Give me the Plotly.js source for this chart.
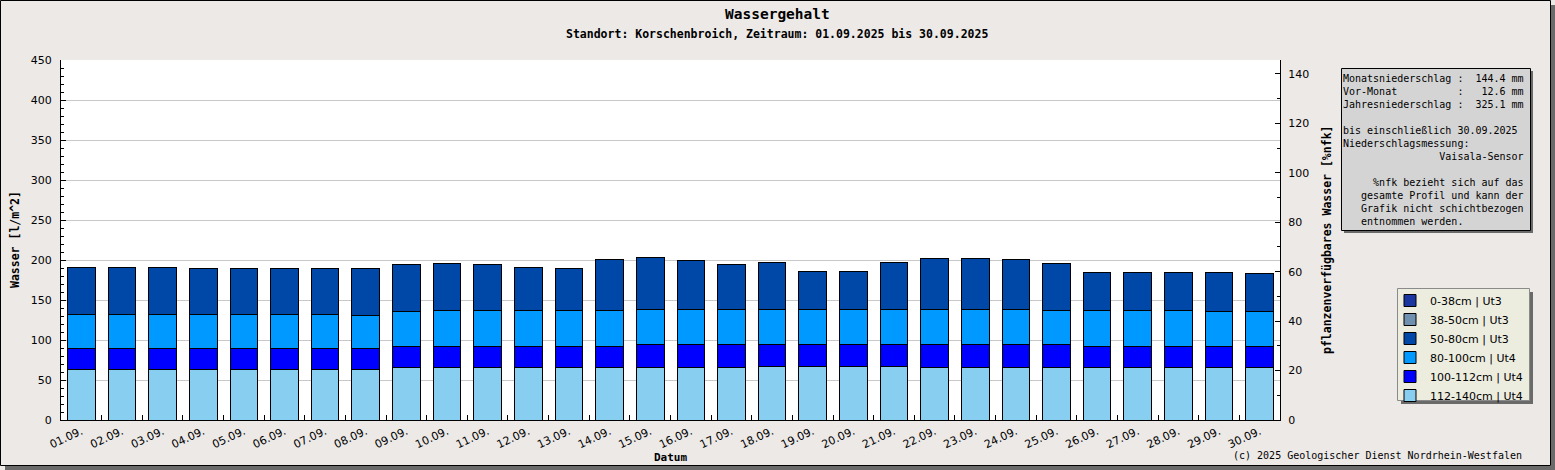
<!DOCTYPE html>
<html>
<head>
<meta charset="utf-8">
<script src="https://cdn.plot.ly/plotly-3.0.1.min.js"></script>
<style>
  html, body { margin: 0; padding: 0; background: #ece9e7; }
  #chart { width: 1555px; height: 470px; }
</style>
</head>
<body>
<div id="chart"></div>
<script>
// Datum (September 2025)
const dates = ["01.09.", "02.09.", "03.09.", "04.09.", "05.09.", "06.09.", "07.09.", "08.09.", "09.09.", "10.09.",
               "11.09.", "12.09.", "13.09.", "14.09.", "15.09.", "16.09.", "17.09.", "18.09.", "19.09.", "20.09.",
               "21.09.", "22.09.", "23.09.", "24.09.", "25.09.", "26.09.", "27.09.", "28.09.", "29.09.", "30.09."];

// Wasser [l/m^2] je Schicht
const layer112_140 = [62.9, 62.9, 62.9, 62.9, 62.9, 62.9, 62.9, 62.9, 65.8, 66.0,
                      66.0, 66.0, 66.0, 66.0, 66.0, 66.0, 66.0, 67.1, 67.1, 67.1,
                      67.1, 66.0, 66.0, 66.0, 66.0, 66.0, 66.0, 66.0, 66.0, 66.0];
const layer100_112 = [25.9, 25.9, 25.9, 25.9, 25.9, 25.9, 25.9, 25.9, 26.3, 26.0,
                      26.0, 26.0, 26.0, 26.0, 27.8, 27.8, 27.8, 26.7, 26.7, 26.7,
                      26.7, 27.8, 27.8, 27.8, 27.8, 26.0, 26.0, 26.0, 26.0, 26.0];
const layer80_100  = [43.2, 43.2, 43.2, 43.2, 43.2, 43.2, 43.2, 42.0, 43.7, 45.1,
                      45.1, 45.1, 45.1, 45.1, 44.5, 44.5, 44.5, 44.5, 44.5, 44.5,
                      44.1, 44.1, 44.1, 44.1, 42.9, 44.7, 44.7, 44.7, 43.4, 43.4];
const layer50_80   = [58.8, 58.8, 58.8, 57.6, 57.6, 57.6, 57.6, 58.8, 58.8, 58.7,
                      57.5, 53.7, 52.5, 63.7, 65.0, 61.3, 56.3, 58.8, 47.5, 47.5,
                      59.2, 64.2, 64.2, 62.9, 59.1, 47.9, 47.9, 47.9, 49.2, 47.9];
// keine Werte sichtbar
const layer38_50   = dates.map(() => null);
const layer0_38    = dates.map(() => null);

const layers = [
    { name: "112-140cm | Ut4", y: layer112_140, color: "#88cef0" },
    { name: "100-112cm | Ut4", y: layer100_112, color: "#0000ff" },
    { name: "80-100cm | Ut4",  y: layer80_100,  color: "#0099ff" },
    { name: "50-80cm | Ut3",   y: layer50_80,   color: "#0048a8" },
    { name: "38-50cm | Ut3",   y: layer38_50,   color: "#7090b0" },
    { name: "0-38cm | Ut3",    y: layer0_38,    color: "#1a36a0" }
];

const infoLines = [
    "Monatsniederschlag :  144.4 mm",
    "Vor-Monat          :   12.6 mm",
    "Jahresniederschlag :  325.1 mm",
    "",
    "bis einschließlich 30.09.2025",
    "Niederschlagsmessung:",
    "                Vaisala-Sensor",
    "",
    "     %nfk bezieht sich auf das",
    "   gesamte Profil und kann der",
    "   Grafik nicht schichtbezogen",
    "   entnommen werden."
];

// page geometry in pixels
const W = 1555, H = 470;
const ML = 61, MR = 275, MT = 60, MB = 50;
const plotW = W - ML - MR;
const plotH = H - MT - MB;
const fx = (px) => (px - ML) / plotW;
const fy = (py) => (H - MB - py) / plotH;

const MONO = "DejaVu Sans Mono, monospace";
const SANS = "DejaVu Sans, sans-serif";

const traces = layers.map(l => ({
    type: "bar",
    x: dates,
    y: l.y,
    name: l.name,
    marker: { color: l.color, line: { color: "#000000", width: 1 } },
    hoverinfo: "skip"
}));

// empty trace so the %nfk axis on the right is drawn
traces.push({
    type: "scatter",
    mode: "lines",
    x: dates,
    y: dates.map(() => null),
    yaxis: "y2",
    showlegend: false,
    hoverinfo: "skip"
});

function rect(x0, y0, x1, y1, fill, line, layer) {
    return {
        type: "rect", xref: "paper", yref: "paper",
        x0: fx(x0), x1: fx(x1), y0: fy(y1), y1: fy(y0),
        fillcolor: fill,
        line: line ? { color: line, width: 1 } : { width: 0 },
        layer: layer || "above"
    };
}

function label(text, x, y, opts) {
    return Object.assign({
        text: text, xref: "paper", yref: "paper",
        x: fx(x), y: fy(y), showarrow: false,
        xanchor: "center", yanchor: "middle",
        font: { family: MONO, size: 11, color: "#000", weight: "bold" }
    }, opts || {});
}

const shapes = [
    // outer frame and shadow
    rect(1551, 5, 1555, 470, "#6a6a6a", null, "below"),
    rect(5, 466, 1555, 470, "#6a6a6a", null, "below"),
    rect(0.5, 0.5, 1550.5, 465.5, "rgba(0,0,0,0)", "#000000", "below"),
    // info box
    rect(1344, 71, 1533, 233, "#6a6a6a", null),
    rect(1341.5, 68.5, 1530.5, 230.5, "#d4d4d4", "#000000"),
    // legend box
    rect(1401, 292, 1533, 404, "#6a6a6a", null),
    rect(1397.5, 288.5, 1529.5, 400.5, "#ececdf", "#8a8a8a")
];

const annotations = [
    label("Wassergehalt", 777, 14, { font: { family: MONO, size: 14.5, color: "#000", weight: "bold" } }),
    label("Standort: Korschenbroich, Zeitraum: 01.09.2025 bis 30.09.2025", 777, 34,
          { font: { family: MONO, size: 11.5, color: "#000", weight: "bold" } }),
    label("Wasser [l/m^2]", 15, 240, { textangle: -90, font: { family: MONO, size: 11.5, color: "#000", weight: "bold" } }),
    label("pflanzenverfügbares Wasser [%nfk]", 1327, 240, { textangle: -90, font: { family: MONO, size: 11.5, color: "#000", weight: "bold" } }),
    label("Datum", 670, 457),
    label("(c) 2025 Geologischer Dienst Nordrhein-Westfalen", 1524, 455,
          { xanchor: "right", font: { family: MONO, size: 10, color: "#000" } }),
    label(infoLines.map(s => s.replace(/ /g, "\u00a0")).join("<br>"), 1341, 71,
          { xanchor: "left", yanchor: "top", align: "left", font: { family: MONO, size: 10, color: "#000" } })
];

const layout = {
    width: W,
    height: H,
    margin: { l: ML, r: MR, t: MT, b: MB, pad: 0 },
    paper_bgcolor: "#ece9e7",
    plot_bgcolor: "#ffffff",
    barmode: "stack",
    bargap: 0.32,
    showlegend: true,
    legend: {
        x: fx(1390), y: fy(286), xanchor: "left", yanchor: "top",
        bgcolor: "rgba(0,0,0,0)", borderwidth: 0,
        traceorder: "reversed",
        font: { family: SANS, size: 11, color: "#000" }
    },
    xaxis: {
        type: "category",
        showline: true, linecolor: "#000", linewidth: 1,
        showgrid: false,
        ticks: "inside", tickson: "boundaries", ticklen: 5, tickcolor: "#000",
        tickangle: -25,
        tickfont: { family: SANS, size: 11, color: "#000" },
        fixedrange: true
    },
    yaxis: {
        range: [0, 450], tick0: 0, dtick: 50,
        showline: true, linecolor: "#000", linewidth: 1,
        showgrid: true, gridcolor: "#c8c8c8", gridwidth: 1,
        zeroline: false,
        ticks: "inside", ticklen: 5, tickcolor: "#000",
        ticklabelstandoff: 6,
        minor: { dtick: 10, ticks: "inside", ticklen: 3, tickcolor: "#000", showgrid: false },
        tickfont: { family: SANS, size: 11, color: "#000" },
        fixedrange: true
    },
    yaxis2: {
        overlaying: "y", side: "right",
        range: [0, 145.66], tick0: 0, dtick: 20,
        showline: true, linecolor: "#000", linewidth: 1,
        showgrid: false, zeroline: false,
        ticks: "inside", ticklen: 5, tickcolor: "#000",
        ticklabelstandoff: 5,
        minor: { dtick: 10, ticks: "inside", ticklen: 3, tickcolor: "#000", showgrid: false },
        tickfont: { family: SANS, size: 11, color: "#000" },
        fixedrange: true
    },
    shapes: shapes,
    annotations: annotations
};

Plotly.newPlot("chart", traces, layout, { displayModeBar: false, staticPlot: true });
</script>
</body>
</html>
